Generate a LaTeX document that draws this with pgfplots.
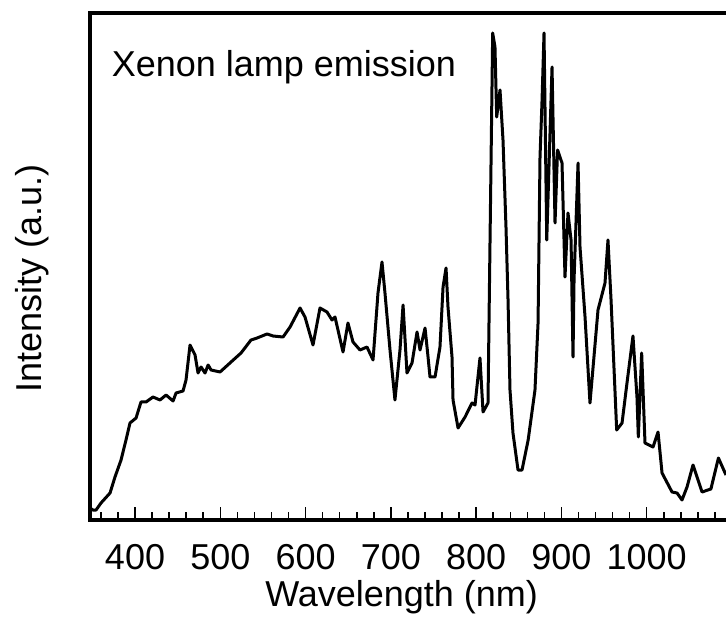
\documentclass[border=0pt]{standalone}
\usepackage{fontspec}
\setmainfont{Liberation Sans}
\usepackage{pgfplots}
\pgfplotsset{compat=1.18}
\newcommand{\bigfont}{\fontsize{36bp}{43bp}\selectfont}
\begin{document}
\begin{tikzpicture}
\useasboundingbox (-90bp,-104bp) rectangle (636bp,520bp);
\begin{axis}[
  at={(0,0)}, anchor=south west,
  scale only axis, width=636bp, height=507bp,
  xmin=347.2, xmax=1093, ymin=0, ymax=507,
  clip=false,
  axis line style={draw=none},
  xtick={400,500,600,700,800,900,1000},
  xticklabels={400,500,600,700,800,900,1000},
  minor xtick={360,380,420,440,460,480,520,540,560,580,620,640,660,680,720,740,760,780,820,840,860,880,920,940,960,980,1020,1040,1060,1080},
  ytick=\empty,
  xtick pos=left,
  tick align=inside,
  major tick length=13bp, minor tick length=8bp,
  every tick/.style={black, line width=1.5bp},
  xticklabel style={font=\bigfont, anchor=base, yshift=-49bp},
  xlabel={Wavelength (nm)},
  xlabel style={font=\bigfont, at={(axis description cs:0.49,-0.171)}, anchor=base},
  ylabel={Intensity (a.u.)},
  ylabel style={font=\bigfont, at={(axis description cs:-0.077,0.477)}, anchor=base},
]
\addplot[black, line width=3bp, line join=round, mark=none] coordinates {
(347.2,12) (350.7,10) (354.3,10) (360.1,17) (370.7,27) (376.5,43) (383.6,60)
(389.4,80) (394.1,97) (401.2,102) (407.0,118) (412.9,118) (421.1,123)
(429.3,120) (436.4,125) (444.6,119) (448.1,127) (456.3,129) (459.8,140)
(464.5,175) (470.4,165) (473.9,147) (477.4,153) (482.1,147) (485.7,155)
(489.2,150) (499.7,148) (512.6,158) (524.3,167) (536.0,180) (543.1,182)
(554.8,186) (561.8,184) (573.6,183) (581.8,193) (593.5,212) (599.3,203)
(608.7,175) (616.9,212) (625.1,208) (631.0,200) (634.5,203) (643.9,168)
(649.7,197) (655.6,178) (663.8,170) (672.0,173) (679.1,160) (684.9,227)
(689.6,258) (693.1,227) (699.0,170) (704.8,120) (710.7,170) (714.3,215)
(718.9,147) (724.8,157) (730.7,188) (734.2,170) (740.1,192) (743.6,163)
(745.9,143) (751.8,143) (757.6,173) (761.2,233) (764.7,252) (767.0,213)
(771.7,163) (772.9,120) (778.8,92) (787.0,103) (795.2,117) (798.7,115)
(804.5,162) (808.1,108) (813.9,117) (816.3,280) (819.4,487) (822.1,473)
(824.1,403) (828.0,430) (831.5,380) (835.0,293) (837.4,220) (839.7,130)
(843.2,87) (849.1,50) (853.8,50) (861.0,80) (869.0,130) (872.6,197)
(874.9,363) (877.3,420) (879.6,487) (882.8,280) (889.0,453) (892.5,297)
(895.5,370) (900.7,357) (904.2,243) (907.7,307) (911.3,280) (913.6,163)
(914.8,240) (919.5,357) (921.8,273) (927.7,203) (933.5,117) (942.9,210)
(951.1,237) (954.6,280) (958.2,220) (964.8,90) (971.1,97) (976.9,137)
(983.9,184) (988.6,123) (990.2,83) (994.1,167) (998.0,77) (1007.4,73)
(1013.3,88) (1018.0,47) (1029.7,28) (1035.6,27) (1041.4,20) (1047.3,33)
(1054.3,55) (1064.9,28) (1075.3,31) (1084.1,62) (1093.0,45)
};
\draw[line width=3.5bp, line join=miter] (rel axis cs:1.1,1) -- (rel axis cs:0,1) -- (rel axis cs:0,0) -- (rel axis cs:1.1,0);
\node[anchor=base west, inner sep=0pt, font=\bigfont] at (axis description cs:0.034,0.874) {Xenon lamp emission};
\end{axis}
\end{tikzpicture}
\end{document}
